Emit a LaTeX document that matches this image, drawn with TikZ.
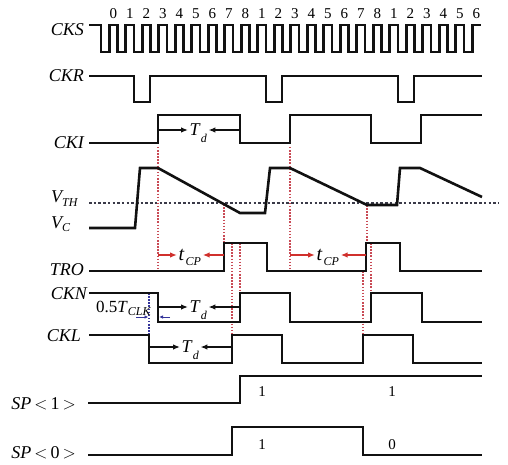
\documentclass[tikz,border=0pt]{standalone}
\usepackage{fontspec}
\setmainfont{Liberation Serif}
\usetikzlibrary{arrows.meta}
\definecolor{ink}{HTML}{111111}
\definecolor{guidered}{HTML}{C94A55}
\definecolor{cpred}{HTML}{D0302C}
\definecolor{clkblue}{HTML}{34349A}
\definecolor{thgray}{HTML}{3A3A48}
\newcommand{\lowsub}[3][-0.6ex]{\textit{#2}\raisebox{#1}[0pt][0pt]{\fontsize{12}{12}\selectfont\itshape #3}}

\begin{document}
\begin{tikzpicture}[
  x=1pt, y=-1pt,
  sig/.style={line width=2.6pt, color=ink},
  lbl/.style={anchor=east, inner sep=0pt, font=\fontsize{18}{18}\selectfont\itshape},
  digit/.style={inner sep=0pt, font=\fontsize{15}{15}\selectfont},
  tlbl/.style={anchor=west, inner sep=1.5pt, font=\fontsize{18}{18}\selectfont},
  guide/.style={draw=guidered, line width=1.5pt, dash pattern=on 1.5pt off 1.6pt},
  clkguide/.style={draw=clkblue, line width=1.3pt, dash pattern=on 1.5pt off 1.6pt},
  thline/.style={draw=thgray, line width=2.5pt, dash pattern=on 2.5pt off 2.2pt},
  tdarr/.style={-{Latex[length=7pt,width=5.5pt]}, line width=1.3pt, color=ink},
  cparr/.style={-{Latex[length=7pt,width=5.5pt]}, line width=1.5pt, color=cpred},
  clkarr/.style={-{Latex[length=4pt,width=3.5pt]}, line width=1pt, color=clkblue}
]
\useasboundingbox (0,0) rectangle (508,465);

% Signal names
\node[lbl] (cks) at (84,30) {CKS};
\node[lbl] (ckr) at (84,76) {CKR};
\node[lbl] (cki) at (84,143) {CKI};
\node[lbl, anchor=base west] (vth) at (51,202) {\lowsub{V}{TH}};
\node[lbl, anchor=base west] (vc) at (51,228) {\lowsub[-0.45ex]{V}{C}};
\node[lbl] (tro) at (84,270) {TRO};
\node[lbl] (ckn) at (87,294) {CKN};
\node[lbl] (ckl) at (81,336) {CKL};
\node[lbl] (sp1) at (76,404) {SP\,$<$\,\textup{1}\,$>$};
\node[lbl] (sp0) at (76,453) {SP\,$<$\,\textup{0}\,$>$};

% Counter on top of CKS
\foreach \d [count=\i from 0] in {0,1,2,3,4,5,6,7,8,1,2,3,4,5,6,7,8,1,2,3,4,5,6}
  \node[digit] (dig\i) at (113.4+16.5*\i,14) {\d};

% Guides
\draw[guide] (158,147) -- (158,271);
\draw[guide] (224,204) -- (224,243);
\draw[guide] (232,243) -- (232,363);
\draw[guide] (240,243) -- (240,322);
\draw[guide] (290,147) -- (290,271);
\draw[guide] (367,205) -- (367,243);
\draw[guide] (363,271) -- (363,363);
\draw[guide] (371,243) -- (371,322);
\draw[clkguide] (149,293) -- (149,335);
\draw[thline] (89,203) -- (498,203);

% Waveforms
\draw[sig] (89,25) -- (101,25) \foreach \k in {0,...,22}{ -- ++(0,27) -- ++(8.25,0) -- ++(0,-27) -- ++(8.25,0)};
\draw[sig] (89,76) -- (134,76) -- (134,102) -- (150,102) -- (150,76) -- (266,76) -- (266,102) -- (282,102) -- (282,76)
  -- (398,76) -- (398,102) -- (414,102) -- (414,76) -- (482,76);
\draw[sig] (89,143) -- (158,143) -- (158,115) -- (240,115) -- (240,143) -- (290,143) -- (290,115) -- (371,115) -- (371,143)
  -- (421,143) -- (421,115) -- (482,115);
\draw[sig] (89,228) -- (135,228) -- (140,168) -- (158,168) -- (240,213) -- (265,213) -- (270,168) -- (290,168) -- (367,205)
  -- (397,205) -- (400,168) -- (420,168) -- (482,197);
\draw[sig] (89,271) -- (224,271) -- (224,243) -- (267,243) -- (267,271) -- (366,271) -- (366,243) -- (400,243) -- (400,271) -- (482,271);
\draw[sig] (89,293) -- (158,293) -- (158,322) -- (240,322) -- (240,293) -- (290,293) -- (290,322) -- (371,322) -- (371,293)
  -- (422,293) -- (422,322) -- (482,322);
\draw[sig] (89,335) -- (149,335) -- (149,363) -- (232,363) -- (232,335) -- (282,335) -- (282,363) -- (363,363) -- (363,335)
  -- (413,335) -- (413,363) -- (482,363);
\draw[sig] (88,403) -- (240,403) -- (240,376) -- (482,376);
\draw[sig] (88,455) -- (232,455) -- (232,427) -- (363,427) -- (363,455) -- (482,455);

% Delay marks
\node[tlbl] (tdI) at (188,130) {\lowsub[-0.85ex]{T}{d}};
\node[tlbl] (tdN) at (188,307) {\lowsub[-0.85ex]{T}{d}};
\node[tlbl] (tdL) at (180,347) {\lowsub[-0.85ex]{T}{d}};
\draw[tdarr] (158,130) -- (tdI);
\draw[tdarr] (240,130) -- (tdI);
\draw[tdarr] (158,307) -- (tdN);
\draw[tdarr] (240,307) -- (tdN);
\draw[tdarr] (149,347) -- (tdL);
\draw[tdarr] (232,347) -- (tdL);

\node[tlbl, font=\fontsize{20}{20}\selectfont] (cpA) at (177,255) {\lowsub[-0.5ex]{t}{\kern1pt CP}};
\node[tlbl, font=\fontsize{20}{20}\selectfont] (cpB) at (315,255) {\lowsub[-0.5ex]{t}{\kern1pt CP}};
\draw[cparr] (158,255) -- (cpA);
\draw[cparr] (224,255) -- (cpA);
\draw[cparr] (290,255) -- (cpB);
\draw[cparr] (366,255) -- (cpB);

\node[tlbl, anchor=base west, inner sep=0pt, font=\fontsize{17}{17}\selectfont] (half) at (96,312) {0.5\lowsub[-0.45ex]{T}{CLK}};
\draw[clkarr] (136,317) -- (148.5,317);
\draw[clkarr] (170,317) -- (159,317);

% Stored bits
\node[digit] (b1a) at (262,392) {1};
\node[digit] (b1b) at (392,392) {1};
\node[digit] (b0a) at (262,445) {1};
\node[digit] (b0b) at (392,445) {0};
\end{tikzpicture}
\end{document}
